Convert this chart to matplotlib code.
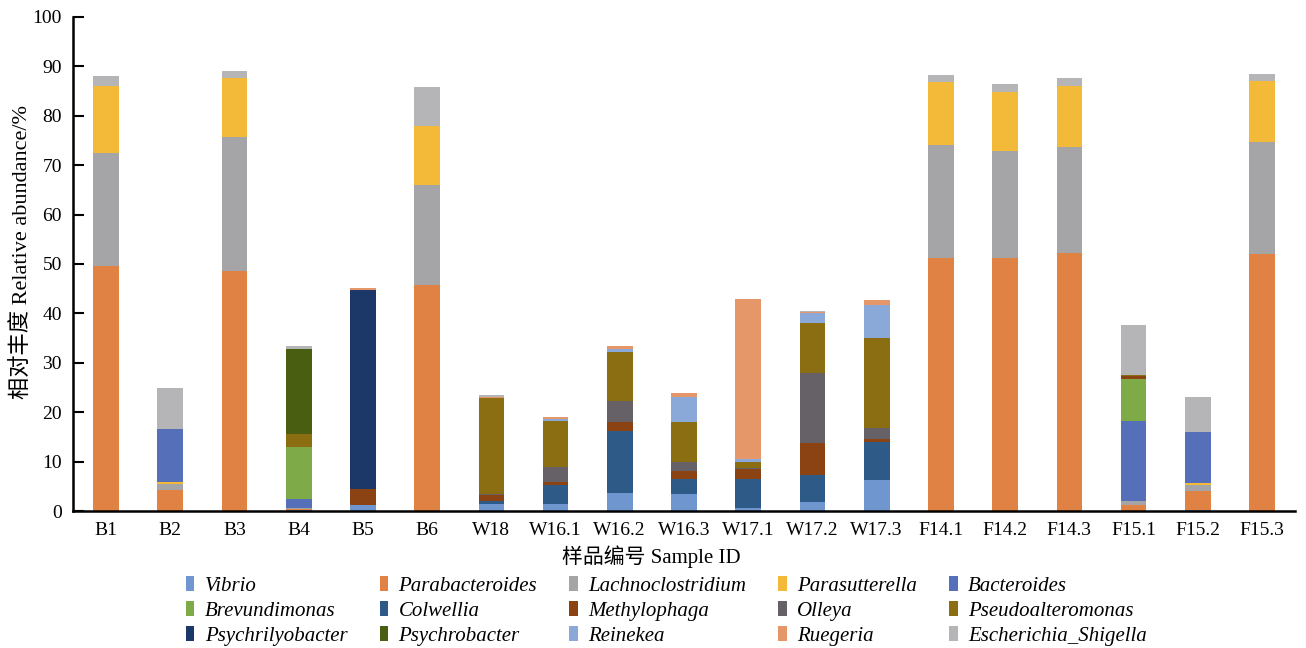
import numpy as np
import matplotlib
matplotlib.use("Agg")
import matplotlib.pyplot as plt

plt.rcParams['font.family'] = ['Liberation Serif', 'Noto Sans CJK SC']

samples = ["B1", "B2", "B3", "B4", "B5", "B6", "W18", "W16.1", "W16.2", "W16.3",
           "W17.1", "W17.2", "W17.3", "F14.1", "F14.2", "F14.3", "F15.1", "F15.2", "F15.3"]

# relative abundance (%) of each genus per sample, bottom to top in the stack
vibrio            = [0, 0, 0, 0.2, 1.2, 0, 1.5, 1.4, 3.7, 3.4, 0.6, 1.9, 6.2, 0, 0, 0, 0, 0.3, 0]
parabacteroides   = [49.6, 4.2, 48.5, 0.3, 0, 45.7, 0, 0, 0, 0, 0, 0, 0, 51.3, 51.3, 52.3, 1.2, 3.7, 52.1]
lachnoclostridium = [22.9, 1.3, 27.2, 0.2, 0, 20.2, 0, 0, 0, 0, 0, 0, 0, 22.7, 21.5, 21.3, 0.8, 1.3, 22.5]
parasutterella    = [13.5, 0.4, 11.9, 0, 0, 12.0, 0, 0, 0, 0, 0, 0, 0, 12.8, 12.0, 12.4, 0, 0.3, 12.4]
bacteroides       = [0, 10.6, 0, 1.7, 0, 0, 0, 0, 0, 0, 0, 0, 0, 0, 0, 0, 16.3, 10.4, 0]
brevundimonas     = [0, 0, 0, 10.6, 0, 0, 0, 0, 0, 0, 0, 0, 0, 0, 0, 0, 8.5, 0, 0]
colwellia         = [0, 0, 0, 0, 0, 0, 0.5, 3.8, 12.5, 3.1, 5.9, 5.4, 7.8, 0, 0, 0, 0, 0, 0]
methylophaga      = [0, 0.2, 0, 0, 3.2, 0, 1.3, 0.6, 1.8, 1.6, 2.1, 6.5, 0.5, 0, 0, 0, 0.5, 0, 0]
olleya            = [0, 0, 0, 0, 0, 0, 0.2, 3.1, 4.3, 1.8, 0.2, 14.2, 2.3, 0, 0, 0, 0, 0, 0]
pseudoalteromonas = [0, 0, 0, 2.6, 0, 0, 19.3, 9.4, 9.8, 8.1, 1.2, 10.1, 18.2, 0, 0, 0, 0.2, 0, 0]
psychrilyobacter  = [0, 0, 0, 0, 40.3, 0, 0, 0, 0, 0, 0, 0, 0, 0, 0, 0, 0, 0, 0]
psychrobacter     = [0, 0, 0, 17.1, 0, 0, 0, 0, 0, 0, 0, 0, 0, 0, 0, 0, 0, 0, 0]
reinekea          = [0, 0, 0, 0, 0, 0, 0, 0.3, 0.7, 5.0, 0.5, 1.9, 6.7, 0, 0, 0, 0, 0, 0]
ruegeria          = [0, 0, 0, 0, 0.5, 0, 0.3, 0.5, 0.5, 0.9, 32.5, 0.3, 1.0, 0, 0, 0, 0, 0, 0]
escherichia       = [2.0, 8.3, 1.4, 0.8, 0, 7.9, 0.4, 0, 0, 0, 0, 0.2, 0, 1.4, 1.6, 1.6, 10.1, 7.0, 1.4]

genera = ["Vibrio", "Parabacteroides", "Lachnoclostridium", "Parasutterella", "Bacteroides",
          "Brevundimonas", "Colwellia", "Methylophaga", "Olleya", "Pseudoalteromonas",
          "Psychrilyobacter", "Psychrobacter", "Reinekea", "Ruegeria", "Escherichia_Shigella"]
values = [vibrio, parabacteroides, lachnoclostridium, parasutterella, bacteroides,
          brevundimonas, colwellia, methylophaga, olleya, pseudoalteromonas,
          psychrilyobacter, psychrobacter, reinekea, ruegeria, escherichia]
colors = ["#7096D0", "#E08243", "#A5A5A8", "#F2BA38", "#5570B9",
          "#7FAA48", "#2E5A88", "#8C4314", "#656166", "#8C6E12",
          "#1B3868", "#4A5E12", "#8BA9D8", "#E5976A", "#B5B4B6"]

fig = plt.figure(figsize=(13.06, 6.48), dpi=100)
ax = fig.add_axes([0.0559, 0.2114, 0.9357, 0.7624])

x = np.arange(len(samples))
bottom = np.zeros(len(samples))
handles = []
for name, vals, c in zip(genera, values, colors):
    vals = np.array(vals, dtype=float)
    h = ax.bar(x, vals, width=0.4, bottom=bottom, color=c, label=name)
    handles.append(h)
    bottom += vals

ax.set_xlim(-0.514, len(samples) - 1 + 0.514)
ax.set_ylim(0, 100)
ax.set_yticks(range(0, 101, 10))
ax.set_xticks(x)
ax.set_xticklabels(samples)
ax.tick_params(axis='y', direction='in', length=8, width=1.5, labelsize=14, pad=8)
ax.tick_params(axis='x', length=0, labelsize=14, pad=8)
for s in ['top', 'right']:
    ax.spines[s].set_visible(False)
for s in ['left', 'bottom']:
    ax.spines[s].set_linewidth(1.8)

ax.set_ylabel("相对丰度 Relative abundance/%", fontsize=16)
ax.yaxis.set_label_coords(-0.033, 0.525)
ax.set_xlabel("样品编号 Sample ID", fontsize=15)
ax.xaxis.set_label_coords(0.473, -0.07)

# legend filled row by row
ncol = 5
order = [r * ncol + c for c in range(ncol) for r in range(3)]
ax.legend([handles[i] for i in order], [genera[i] for i in order],
          loc='upper left', bbox_to_anchor=(0.1345, 0.127), bbox_transform=fig.transFigure,
          ncol=ncol, frameon=False, prop={'style': 'italic', 'size': 15},
          handlelength=0.4, handleheight=0.7, handletextpad=0.5,
          columnspacing=1.55, labelspacing=0.26, borderpad=0)

fig.savefig("out.png", dpi=100)
